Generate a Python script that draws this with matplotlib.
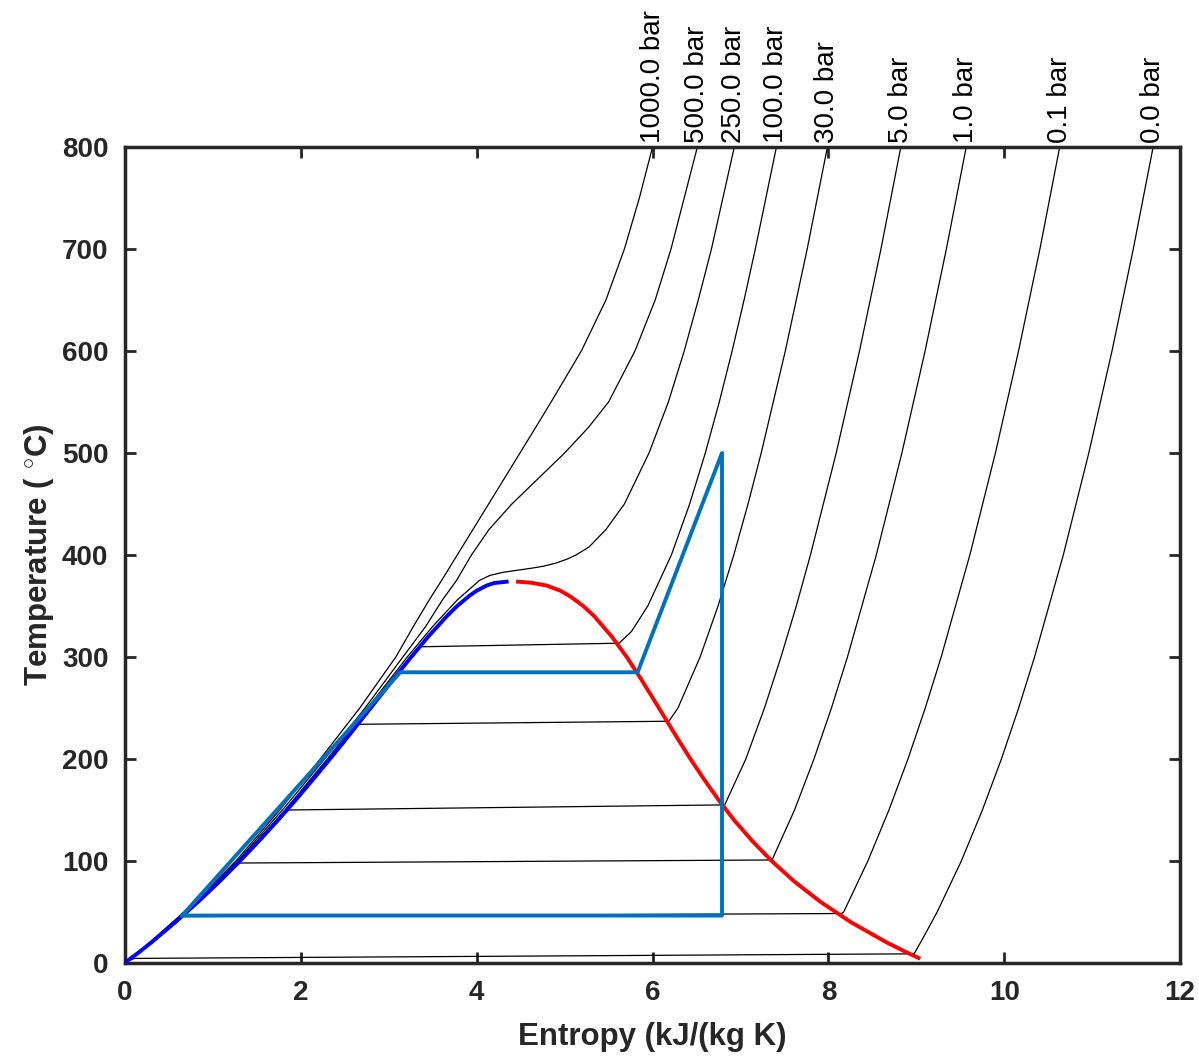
import matplotlib
matplotlib.use("Agg")
import matplotlib.pyplot as plt

plt.rcParams['font.family'] = ['Liberation Sans', 'DejaVu Sans']
plt.rcParams['mathtext.fontset'] = 'custom'
plt.rcParams['mathtext.rm'] = 'Liberation Sans'

# saturation dome (entropy kJ/(kg K), temperature degC)
sat_liq_s = [0.0, 0.151, 0.297, 0.572, 0.831, 1.076, 1.307, 1.528, 1.739, 1.943, 2.139, 2.331,
             2.518, 2.702, 2.885, 3.069, 3.255, 3.449, 3.660, 3.778, 3.917, 4.001, 4.111, 4.20, 4.34]
sat_liq_T = [0.5, 10, 20, 40, 60, 80, 100, 120, 140, 160, 180, 200,
             220, 240, 260, 280, 300, 320, 340, 350, 360, 365, 370, 372.5, 373.8]
sat_vap_s = [4.47, 4.62, 4.797, 4.950, 5.053, 5.211, 5.336, 5.536, 5.706, 5.857, 6.001, 6.143,
             6.285, 6.431, 6.586, 6.750, 6.928, 7.130, 7.355, 7.611, 7.909, 8.256, 8.666, 8.900, 9.025]
sat_vap_T = [373.8, 372.8, 370, 365, 360, 350, 340, 320, 300, 280, 260, 240,
             220, 200, 180, 160, 140, 120, 100, 80, 60, 40, 20, 10, 5]

# isobars, pressure in bar
pressures = [1000, 500, 250, 100, 30, 5, 1, 0.1, 0.01]

p1000_s = [0.0, 0.28, 0.80, 1.26, 1.76, 2.22, 2.67, 3.08, 3.28, 3.46, 3.60, 4.15, 4.72, 4.86,
           5.19, 5.47, 5.68, 5.85, 6.00]
p1000_T = [0.5, 20, 60, 100, 150, 200, 250, 300, 330, 356, 375, 452, 532, 552,
           600, 650, 700, 750, 800]

p500_s = [0.0, 0.29, 0.82, 1.28, 1.79, 2.27, 2.73, 3.16, 3.42, 3.61, 3.77, 3.94, 4.14, 4.40,
          4.70, 5.00, 5.27, 5.50, 5.80, 6.03, 6.21, 6.36, 6.51]
p500_T = [0.5, 20, 60, 100, 150, 200, 250, 300, 330, 356, 375, 400, 425, 450,
          475, 500, 525, 550, 600, 650, 700, 750, 800]

p250_s = [0.0, 0.297, 0.83, 1.30, 1.82, 2.30, 2.76, 3.21, 3.50, 3.78, 4.03, 4.15, 4.30, 4.46,
          4.62, 4.76, 4.90, 5.03, 5.13, 5.28, 5.47, 5.68, 5.96, 6.18, 6.36, 6.52, 6.67, 6.93]
p250_T = [0.5, 20, 60, 100, 150, 200, 250, 300, 330, 356, 375, 380, 383, 385,
          387, 389, 392, 396, 400, 408, 425, 450, 500, 550, 600, 650, 700, 800]

p100_s = [0.0, 0.297, 0.831, 1.307, 1.739, 2.139, 2.518, 2.885, 3.255, 3.36, 5.62, 5.76, 5.946,
          6.214, 6.422, 6.600, 6.759, 6.905, 7.041, 7.169, 7.409]
p100_T = [0.5, 20, 60, 100, 140, 180, 220, 260, 300, 310, 313.5, 325, 350,
          400, 450, 500, 550, 600, 650, 700, 800]

p30_s = [0.0, 0.297, 0.831, 1.307, 1.739, 2.139, 2.518, 2.645, 6.186, 6.289, 6.541, 6.745, 6.924,
         7.086, 7.236, 7.510, 7.759, 7.989]
p30_T = [0.5, 20, 60, 100, 140, 180, 220, 234, 237, 250, 300, 350, 400,
         450, 500, 600, 700, 800]

p5_s = [0.0, 0.297, 0.831, 1.307, 1.739, 1.861, 6.821, 7.061, 7.273, 7.461, 7.635, 7.796,
        8.089, 8.354, 8.598, 8.824]
p5_T = [0.5, 20, 60, 100, 140, 150, 155, 200, 250, 300, 350, 400,
        500, 600, 700, 800]

p1_s = [0.0, 0.297, 0.572, 0.831, 1.076, 1.303, 7.359, 7.615, 7.836, 8.035, 8.217, 8.545,
        8.836, 9.100, 9.342, 9.568]
p1_T = [0.5, 20, 40, 60, 80, 98, 101, 150, 200, 250, 300, 400,
        500, 600, 700, 800]

p01_s = [0.0, 0.151, 0.297, 0.572, 0.649, 8.15, 8.174, 8.449, 8.689, 8.905, 9.102, 9.283,
         9.609, 9.900, 10.163, 10.406, 10.631]
p01_T = [0.5, 10, 20, 40, 45.5, 48.5, 50, 100, 150, 200, 250, 300,
         400, 500, 600, 700, 800]

p001_s = [0.0, 0.106, 8.975, 9.08, 9.237, 9.512, 9.752, 9.968, 10.164, 10.345,
          10.672, 10.962, 11.226, 11.468, 11.694]
p001_T = [0.5, 4.5, 9.0, 25, 50, 100, 150, 200, 250, 300,
          400, 500, 600, 700, 800]

isobars = [(p1000_s, p1000_T), (p500_s, p500_T), (p250_s, p250_T), (p100_s, p100_T),
           (p30_s, p30_T), (p5_s, p5_T), (p1_s, p1_T), (p01_s, p01_T), (p001_s, p001_T)]

# Rankine cycle
cycle_s = [0.649, 3.13, 5.83, 6.79, 6.79, 0.649]
cycle_T = [46.5, 285, 285, 500, 46.5, 46.5]

fig = plt.figure(figsize=(11.99, 10.58), dpi=100)
ax = fig.add_axes([0.1043, 0.0898, 0.8799, 0.7713])

for (s, T), p in zip(isobars, pressures):
    ax.plot(s, T, color='black', lw=0.9, zorder=2)
    ax.annotate('%.1f bar' % p, xy=(s[-1], T[-1]), xytext=(0, 3), textcoords='offset points',
                rotation=90, ha='center', va='bottom', fontsize=20, annotation_clip=False)

ax.plot(sat_liq_s, sat_liq_T, color='#0000ff', lw=2.8, zorder=3)
ax.plot(sat_vap_s, sat_vap_T, color='#ff0000', lw=2.8, zorder=3)
ax.plot(cycle_s, cycle_T, color='#0072bd', lw=2.8, zorder=4)

ax.set_xlim(0, 12)
ax.set_ylim(0, 800)
ax.set_xticks(range(0, 13, 2))
ax.set_yticks(range(0, 801, 100))
ax.tick_params(direction='in', length=8, width=2, top=True, right=True,
               labelsize=20, pad=12, colors='#262626')
for lbl in ax.get_xticklabels() + ax.get_yticklabels():
    lbl.set_fontweight('bold')
for sp in ax.spines.values():
    sp.set_linewidth(2.5)
    sp.set_color('#262626')

ax.set_xlabel('Entropy (kJ/(kg K)', fontsize=22.5, fontweight='bold', color='#262626', labelpad=12)
ax.set_ylabel(r'Temperature ( $^{\circ}$C)', fontsize=22.5, fontweight='bold', color='#262626', labelpad=4)

fig.savefig('out.png', dpi=100)
